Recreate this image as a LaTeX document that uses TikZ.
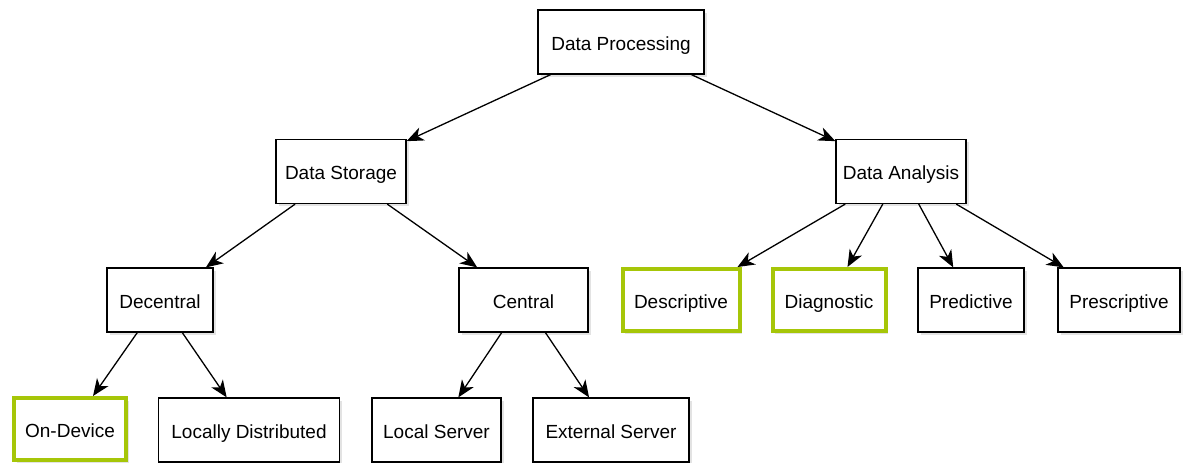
\documentclass[tikz,border=0pt]{standalone}
\usepackage{fontspec}
\setmainfont{Liberation Sans}
\usetikzlibrary{arrows.meta,shadows}
\definecolor{hlgreen}{RGB}{166,198,8}
\begin{document}
\begin{tikzpicture}[x=1pt,y=-1pt,
  box/.style={draw=black, line width=1.2pt, fill=white, minimum height=64pt,
    inner sep=0pt, font=\fontsize{19}{21}\selectfont, text height=16pt, text depth=0pt,
    drop shadow={opacity=0.22, shadow xshift=2.5pt, shadow yshift=-2.5pt}},
  hl/.style={box, draw=hlgreen, line width=4pt},
  conn/.style={line width=1.3pt, -{Stealth[length=17pt,width=14pt,inset=5pt]}}]
\useasboundingbox (0,0) rectangle (1183,463);
\node[box, minimum width=166pt] (dp) at (621,42) {Data Processing};
\node[box, minimum width=130pt] (ds) at (341,171.5) {Data Storage};
\node[box, minimum width=130pt] (da) at (901,171.5) {Data Analysis};
\node[box, minimum width=106pt] (dec) at (160,300) {Decentral};
\node[box, minimum width=129pt] (cen) at (523.5,300) {Central};
\node[hl, minimum width=117pt, minimum height=62pt] (desc) at (681,300) {Descriptive};
\node[hl, minimum width=113pt, minimum height=62pt] (diag) at (829,300) {Diagnostic};
\node[box, minimum width=106pt] (pred) at (971,300) {Predictive};
\node[box, minimum width=122pt] (presc) at (1119,300) {Prescriptive};
\node[hl, minimum width=112pt, minimum height=62pt] (ond) at (70,429) {On-Device};
\node[box, minimum width=181pt] (ld) at (249,430) {Locally Distributed};
\node[box, minimum width=129pt] (ls) at (436.5,430) {Local Server};
\node[box, minimum width=156pt] (es) at (611,430) {External Server};
\draw[conn] (dp) -- (ds);
\draw[conn] (dp) -- (da);
\draw[conn] (ds) -- (dec);
\draw[conn] (ds) -- (cen);
\draw[conn] (dec) -- (ond);
\draw[conn] (dec) -- (ld);
\draw[conn] (cen) -- (ls);
\draw[conn] (cen) -- (es);
\draw[conn] (da) -- (desc);
\draw[conn] (da) -- (diag);
\draw[conn] (da) -- (pred);
\draw[conn] (da) -- (presc);
\end{tikzpicture}
\end{document}
